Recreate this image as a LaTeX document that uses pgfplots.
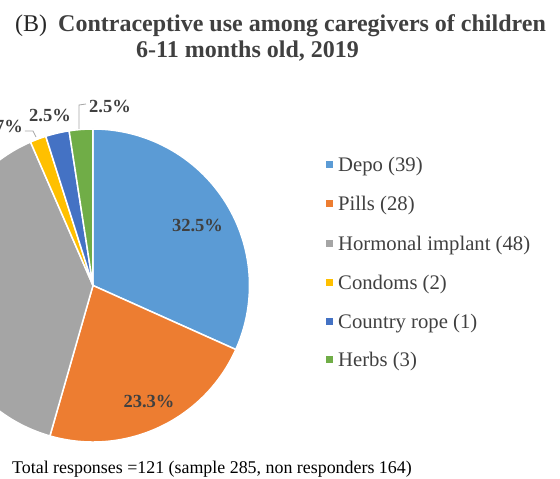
\documentclass[border=0pt]{standalone}
\usepackage{pgfplots}
\pgfplotsset{compat=1.18}
\usepackage{fontspec}
\setmainfont{Liberation Serif}
\definecolor{depo}{HTML}{5B9BD5}
\definecolor{pills}{HTML}{ED7D31}
\definecolor{implant}{HTML}{A5A5A5}
\definecolor{condoms}{HTML}{FFC000}
\definecolor{rope}{HTML}{4472C4}
\definecolor{herbs}{HTML}{70AD47}
\definecolor{txt}{HTML}{404040}
\definecolor{lead}{HTML}{A6A6A6}
% slice share (percent as labelled) / colour
\def\piedata{32.5/depo, 23.3/pills, 40.0/implant, 1.7/condoms, 2.5/rope, 2.5/herbs}
% legend: colour / text / centre y (pt from bottom)
\def\legdata{depo/Depo (39)/314, pills/Pills (28)/275.7, implant/Hormonal implant (48)/235.7, condoms/Condoms (2)/196.3, rope/Country rope (1)/157.3, herbs/Herbs (3)/119}
\begin{document}
\begin{tikzpicture}
\useasboundingbox (0,0) rectangle (560pt,479pt);
\clip (0,0) rectangle (560pt,479pt);
\begin{axis}[
  at={(0,0)}, anchor=south west,
  scale only axis, width=560pt, height=479pt,
  xmin=0, xmax=560, ymin=0, ymax=479,
  enlargelimits=false, hide axis, clip=false,
]
\pgfplotsextra{
  \def\tot{0}
  \foreach \v/\c in \piedata {\pgfmathsetmacro\tmp{\tot+\v}\global\let\tot\tmp}
  \gdef\cum{0}
  \foreach \v/\c in \piedata {
    \pgfmathsetmacro\sa{90-\cum/\tot*360}
    \pgfmathsetmacro\ea{90-(\cum+\v)/\tot*360}
    \filldraw[fill=\c, draw=white, line width=1.5pt, line join=round]
      (axis cs:93,193.5) -- ++(\sa:156.5pt) arc[start angle=\sa, end angle=\ea, radius=156.5pt] -- cycle;
    \pgfmathsetmacro\tmp{\cum+\v}\global\let\cum\tmp
  }
  \foreach \c/\t/\y in \legdata {
    \fill[\c] (axis cs:326,\y-3.5) rectangle (axis cs:333,\y+3.5);
    \node[anchor=base west, inner sep=0pt, text=txt, font=\fontsize{20.7}{24}\selectfont] at (axis cs:338,\y-7) {\t};
  }
}
% data labels
\node[anchor=base, inner sep=0pt, text=txt, font=\bfseries\fontsize{18.5}{22}\selectfont] at (axis cs:197.5,247) {32.5\%};
\node[anchor=base, inner sep=0pt, text=txt, font=\bfseries\fontsize{18.5}{22}\selectfont] at (axis cs:149,71) {23.3\%};
\node[anchor=base, inner sep=0pt, text=txt, font=\bfseries\fontsize{18.5}{22}\selectfont] at (axis cs:110,366) {2.5\%};
\node[anchor=base, inner sep=0pt, text=txt, font=\bfseries\fontsize{18.5}{22}\selectfont] at (axis cs:50,357) {2.5\%};
\node[anchor=base east, inner sep=0pt, text=txt, font=\bfseries\fontsize{18.5}{22}\selectfont] at (axis cs:23,346) {1.7\%};
% leader lines
\draw[lead, line width=0.8pt] (axis cs:79,350) -- (axis cs:79,374) -- (axis cs:86,375);
\draw[lead, line width=0.8pt] (axis cs:25,348) -- (axis cs:33,348) -- (axis cs:36,342);
% titles
\node[anchor=base west, inner sep=0pt, text=black!85, font=\fontsize{24}{28}\selectfont] at (axis cs:15,447) {(B)};
\node[anchor=base west, inner sep=0pt, text=txt, font=\bfseries\fontsize{24}{28}\selectfont] at (axis cs:58,447) {Contraceptive use among caregivers of children};
\node[anchor=base west, inner sep=0pt, text=txt, font=\bfseries\fontsize{24}{28}\selectfont] at (axis cs:136,421) {6-11 months old, 2019};
\node[anchor=base west, inner sep=0pt, text=black, font=\fontsize{17.9}{21}\selectfont] at (axis cs:12,5) {Total responses =121 (sample 285, non responders 164)};
\end{axis}
\end{tikzpicture}
\end{document}
